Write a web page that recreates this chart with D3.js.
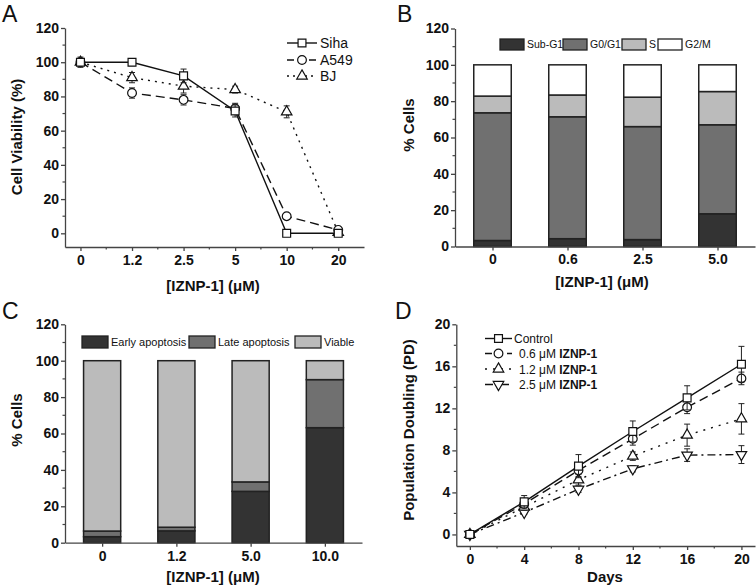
<!DOCTYPE html>
<html>
<head>
<meta charset="utf-8">
<script src="https://d3js.org/d3.v7.min.js"></script>
<style>
  body { margin: 0; background: #fff; }
  text { font-family: "Liberation Sans", Arial, sans-serif; }
  .tick text { font-weight: bold; font-size: 14px; fill: #111; }
  .domain, .tick line { stroke: #444; stroke-width: 1.3px; }
  .title { font-weight: bold; font-size: 15px; fill: #111; }
  .letter { font-size: 23px; fill: #111; }
</style>
</head>
<body>
<div id="chart"></div>
<script>
// ---- panel A: cell viability ----
var doseA = ["0", "1.2", "2.5", "5", "10", "20"];
var sihaMean = [100, 100, 92, 71.5, 0, 0];
var sihaErr = [2, 2, 4, 3.5, 0, 0];
var a549Mean = [100, 82, 78, 73, 10, 2];
var a549Err = [2, 3, 3, 3, 1, 1];
var bjMean = [100, 91, 86, 84, 71, 0.5];
var bjErr = [3, 3, 4, 2, 3.5, 0.5];

// ---- panel B: cell cycle ----
var doseB = ["0", "0.6", "2.5", "5.0"];
var phases = ["Sub-G1", "G0/G1", "S", "G2/M"];
var subG1 = [3.3, 4.3, 3.8, 18.0];
var g0g1 = [70.3, 67.1, 62.2, 49.0];
var sPhase = [9.2, 12.0, 16.2, 18.3];
var g2m = [17.2, 16.6, 17.8, 14.7];

// ---- panel C: apoptosis ----
var doseC = ["0", "1.2", "5.0", "10.0"];
var apopLabels = ["Early apoptosis", "Late apoptosis", "Viable"];
var early = [3.3, 6.5, 28.2, 63.2];
var late = [3.1, 2.0, 5.2, 26.4];
var viable = [93.6, 91.5, 66.6, 10.4];

// ---- panel D: population doubling ----
var days = [0, 4, 8, 12, 16, 20];
var pdLabels = ["Control", "0.6 \u03bcM ", "1.2 \u03bcM ", "2.5 \u03bcM "];
var control = [0, 3.1, 6.5, 9.8, 13.0, 16.2];
var controlErr = [0, 0.6, 1.1, 1.0, 1.15, 1.7];
var iz06 = [0, 2.9, 6.1, 9.1, 12.1, 14.85];
var iz06Err = [0, 0.3, 0.6, 0.6, 0.6, 0.6];
var iz12 = [0, 2.6, 5.2, 7.45, 9.45, 11.0];
var iz12Err = [0, 0.3, 0.5, 0.4, 1.05, 1.45];
var iz25 = [0, 2.1, 4.3, 6.25, 7.55, 7.6];
var iz25Err = [0, 0.2, 0.3, 0.3, 0.6, 0.85];

var width = 756, height = 587;
var svg = d3.select("#chart").append("svg")
    .attr("width", width).attr("height", height);

var darkGrey = "#333333", midGrey = "#707070", lightGrey = "#bbbbbb";

function letter(x, y, s) {
    svg.append("text").attr("class", "letter").attr("x", x).attr("y", y).text(s);
}

function yTitle(x, y, s) {
    svg.append("text").attr("class", "title")
        .attr("transform", "translate(" + x + "," + y + ") rotate(-90)")
        .attr("text-anchor", "middle").text(s);
}

function xTitle(x, y, s) {
    svg.append("text").attr("class", "title")
        .attr("x", x).attr("y", y).attr("text-anchor", "middle").text(s);
}

function minorTicks(g, vals, scale, horiz, len) {
    g.selectAll(null).data(vals).enter().append("line")
        .attr("stroke", "#444").attr("stroke-width", 1.2)
        .attr("x1", function(d) { return horiz ? scale(d) : 0; })
        .attr("x2", function(d) { return horiz ? scale(d) : -len; })
        .attr("y1", function(d) { return horiz ? 0 : scale(d); })
        .attr("y2", function(d) { return horiz ? len : scale(d); });
}

function symbolPath(type, size) {
    return d3.symbol().type(type).size(size)();
}

var markerTypes = {
    square: { type: d3.symbolSquare, size: 62, rot: 0 },
    circle: { type: d3.symbolCircle, size: 60, rot: 0 },
    tri: { type: d3.symbolTriangle, size: 48, rot: 0 },
    down: { type: d3.symbolTriangle, size: 48, rot: 180 }
};

function drawSeries(g, xs, ys, errs, x, y, dash, marker) {
    var line = d3.line().x(function(d, i) { return x(xs[i]); }).y(function(d) { return y(d); });
    g.append("path").datum(ys).attr("d", line)
        .attr("fill", "none").attr("stroke", "#111").attr("stroke-width", 1.4)
        .attr("stroke-dasharray", dash);
    var eb = g.append("g");
    ys.forEach(function(v, i) {
        if (!errs[i]) return;
        var cx = x(xs[i]), t = y(v + errs[i]), b = y(v - errs[i]);
        eb.append("line").attr("x1", cx).attr("x2", cx).attr("y1", t).attr("y2", b)
            .attr("stroke", "#222").attr("stroke-width", 1);
        [t, b].forEach(function(yy) {
            eb.append("line").attr("x1", cx - 3).attr("x2", cx + 3).attr("y1", yy).attr("y2", yy)
                .attr("stroke", "#222").attr("stroke-width", 1);
        });
    });
    var m = markerTypes[marker];
    g.selectAll(null).data(ys).enter().append("path")
        .attr("d", symbolPath(m.type, m.size))
        .attr("transform", function(d, i) {
            return "translate(" + x(xs[i]) + "," + y(d) + ") rotate(" + m.rot + ")";
        })
        .attr("fill", "#fff").attr("stroke", "#111").attr("stroke-width", 1.2);
}

function legendLine(g, x1, x2, yy, dash, marker) {
    g.append("line").attr("x1", x1).attr("x2", x2).attr("y1", yy).attr("y2", yy)
        .attr("stroke", "#111").attr("stroke-width", 1.4).attr("stroke-dasharray", dash);
    var m = markerTypes[marker];
    g.append("path").attr("d", symbolPath(m.type, m.size))
        .attr("transform", "translate(" + ((x1 + x2) / 2) + "," + yy + ") rotate(" + m.rot + ")")
        .attr("fill", "#fff").attr("stroke", "#111").attr("stroke-width", 1.2);
}

// ================= Panel A =================
(function() {
    var idx = d3.range(doseA.length);
    var x = d3.scaleLinear().domain([-0.3, 5.5]).range([65, 364]);
    var y = d3.scaleLinear().domain([-8, 120]).range([247, 28]);
    var g = svg.append("g");

    g.append("g").attr("transform", "translate(0,247)")
        .call(d3.axisBottom(x).tickValues(idx).tickFormat(function(i) { return doseA[i]; })
            .tickSizeInner(4).tickSizeOuter(0).tickPadding(4));
    minorTicks(g.append("g").attr("transform", "translate(0,247)"), [0.5, 1.5, 2.5, 3.5, 4.5], x, true, 2.5);

    g.append("g").attr("transform", "translate(65,0)")
        .call(d3.axisLeft(y).tickValues(d3.range(0, 121, 20)).tickSizeInner(4).tickSizeOuter(0).tickPadding(2));
    minorTicks(g.append("g").attr("transform", "translate(65,0)"), d3.range(10, 120, 20), y, false, 2.5);

    var plot = g.append("g");
    drawSeries(plot, idx, bjMean, bjErr, x, y, "2,5", "tri");
    drawSeries(plot, idx, a549Mean, a549Err, x, y, "9,5", "circle");
    drawSeries(plot, idx, sihaMean, sihaErr, x, y, null, "square");

    var lg = g.append("g");
    var rows = [["Siha", null, "square", 43], ["A549", "7,4", "circle", 60], ["BJ", "2,4", "tri", 76]];
    rows.forEach(function(r) {
        legendLine(lg, 287, 317, r[3], r[1], r[2]);
        lg.append("text").attr("x", 320).attr("y", r[3] + 5).attr("font-size", 14).attr("fill", "#111").text(r[0]);
    });

    yTitle(22, 137, "Cell Viability (%)");
    xTitle(213, 291, "[IZNP-1] (\u03bcM)");
    letter(2, 22, "A");
})();

// ================= Stacked bar helper =================
function stackedPanel(opt) {
    var idx = d3.range(opt.cats.length);
    var x = d3.scaleLinear().domain([-0.5, 3.5]).range(opt.xr);
    var y = d3.scaleLinear().domain([0, 120]).range(opt.yr);
    var g = svg.append("g");
    var bw = (x(1) - x(0)) * 0.5;

    var rows = idx.map(function(i) {
        var o = { i: i };
        opt.keys.forEach(function(k, j) { o[k] = opt.series[j][i]; });
        return o;
    });
    var stack = d3.stack().keys(opt.keys)(rows);
    stack.forEach(function(layer, j) {
        g.selectAll(null).data(layer).enter().append("rect")
            .attr("x", function(d) { return x(d.data.i) - bw / 2; })
            .attr("width", bw)
            .attr("y", function(d) { return y(d[1]); })
            .attr("height", function(d) { return y(d[0]) - y(d[1]); })
            .attr("fill", opt.colors[j]).attr("stroke", "#222").attr("stroke-width", 1.5);
    });

    g.append("g").attr("transform", "translate(0," + opt.yr[0] + ")")
        .call(d3.axisBottom(x).tickValues(idx).tickFormat(function(i) { return opt.cats[i]; })
            .tickSizeInner(4).tickSizeOuter(0).tickPadding(4));
    g.append("g").attr("transform", "translate(" + opt.xr[0] + ",0)")
        .call(d3.axisLeft(y).tickValues(d3.range(0, 121, 20)).tickSizeInner(4).tickSizeOuter(0).tickPadding(2));
    minorTicks(g.append("g").attr("transform", "translate(" + opt.xr[0] + ",0)"), d3.range(10, 120, 20), y, false, 2.5);

    // legend
    var lg = g.append("g");
    opt.keys.forEach(function(k, j) {
        var bx = opt.legendX[j];
        lg.append("rect").attr("x", bx).attr("y", opt.legendY - opt.boxH / 2)
            .attr("width", opt.boxW).attr("height", opt.boxH)
            .attr("fill", opt.colors[j]).attr("stroke", "#222").attr("stroke-width", 1.3);
        lg.append("text").attr("x", bx + opt.boxW + 3).attr("y", opt.legendY + opt.fs * 0.36)
            .attr("font-size", opt.fs).attr("fill", "#111").text(k);
    });
    return g;
}

// ================= Panel B =================
stackedPanel({
    cats: doseB, keys: phases, series: [subG1, g0g1, sPhase, g2m],
    colors: [darkGrey, midGrey, lightGrey, "#ffffff"],
    xr: [455, 755], yr: [246.5, 28.5],
    legendX: [500, 563, 622, 658], legendY: 44.5, boxW: 24, boxH: 11, fs: 10.5
});
yTitle(414, 125, "% Cells");
xTitle(602, 287, "[IZNP-1] (\u03bcM)");
letter(397, 22, "B");

// ================= Panel C =================
stackedPanel({
    cats: doseC, keys: apopLabels, series: [early, late, viable],
    colors: [darkGrey, midGrey, lightGrey],
    xr: [65, 362], yr: [542.7, 324.3],
    legendX: [82, 189, 295], legendY: 342, boxW: 26, boxH: 12, fs: 11
});
yTitle(22, 420, "% Cells");
xTitle(213, 582, "[IZNP-1] (\u03bcM)");
letter(2, 319, "C");

// ================= Panel D =================
(function() {
    var x = d3.scaleLinear().domain([-1, 21]).range([456.3, 755]);
    var y = d3.scaleLinear().domain([-1.1, 20]).range([546, 324.3]);
    var g = svg.append("g");

    g.append("g").attr("transform", "translate(0,546)")
        .call(d3.axisBottom(x).tickValues(days).tickSizeInner(4).tickSizeOuter(0).tickPadding(4));
    minorTicks(g.append("g").attr("transform", "translate(0,546)"), [2, 6, 10, 14, 18], x, true, 2.5);
    g.append("g").attr("transform", "translate(456.3,0)")
        .call(d3.axisLeft(y).tickValues(d3.range(0, 21, 4)).tickSizeInner(4).tickSizeOuter(0).tickPadding(2));
    minorTicks(g.append("g").attr("transform", "translate(456.3,0)"), [2, 6, 10, 14, 18], y, false, 2.5);

    var plot = g.append("g");
    drawSeries(plot, days, iz25, iz25Err, x, y, "8,4,2,4", "down");
    drawSeries(plot, days, iz12, iz12Err, x, y, "2,6", "tri");
    drawSeries(plot, days, iz06, iz06Err, x, y, "9,5", "circle");
    drawSeries(plot, days, control, controlErr, x, y, null, "square");

    var lg = g.append("g");
    var rows = [[null, "square", 338.5], ["7,4", "circle", 353.5], ["2,6", "tri", 369], ["8,3,2,3", "down", 384.5]];
    rows.forEach(function(r, i) {
        legendLine(lg, 485, 512, r[2], r[0], r[1]);
        var t = lg.append("text").attr("x", i === 0 ? 514 : 519).attr("y", r[2] + 4.5)
            .attr("font-size", 12).attr("fill", "#111");
        t.append("tspan").text(pdLabels[i]);
        if (i > 0) t.append("tspan").attr("font-weight", "bold").text("IZNP-1");
    });

    yTitle(414, 430, "Population Doubling (PD)");
    xTitle(605, 582, "Days");
    letter(395, 319, "D");
})();
</script>
</body>
</html>
